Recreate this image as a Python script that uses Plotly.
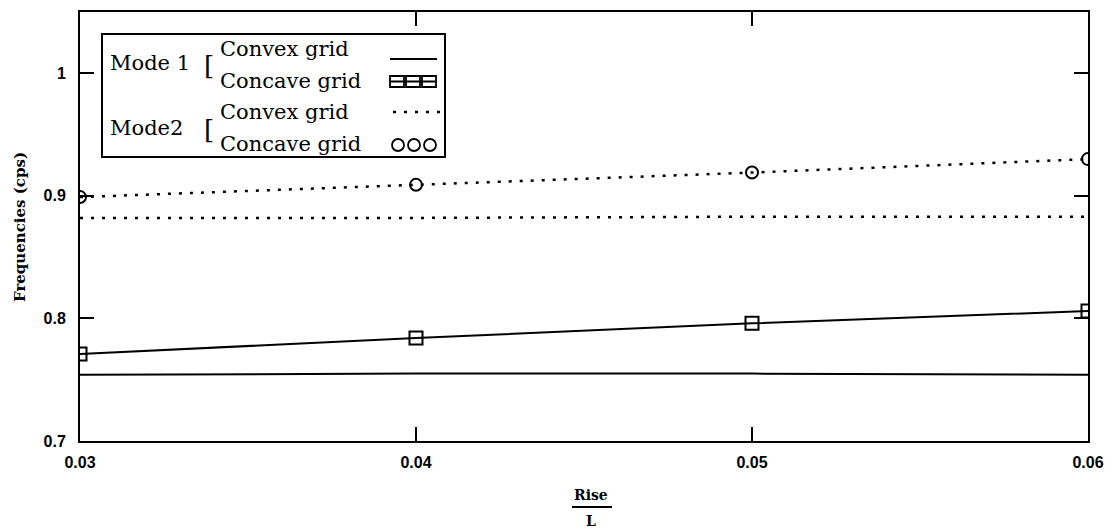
import plotly.graph_objects as go

# ---- data ----
rise_over_L = [0.03, 0.04, 0.05, 0.06]
mode1_convex = [0.754, 0.755, 0.755, 0.754]
mode1_concave = [0.771, 0.784, 0.796, 0.806]
mode2_convex = [0.882, 0.882, 0.883, 0.883]
mode2_concave = [0.899, 0.909, 0.919, 0.930]

x_ticks = [0.03, 0.04, 0.05, 0.06]
x_ticktext = ["0.03", "0.04", "0.05", "0.06"]
y_ticks = [0.7, 0.8, 0.9, 1.0]
y_ticktext = ["0.7", "0.8", "0.9", "1"]

fig = go.Figure()
fig.add_trace(go.Scatter(x=rise_over_L, y=mode1_convex, mode="lines",
                         line=dict(color="black", width=2), showlegend=False))
fig.add_trace(go.Scatter(x=rise_over_L, y=mode1_concave, mode="lines+markers",
                         line=dict(color="black", width=2),
                         marker=dict(symbol="square-open", size=13, color="black",
                                     line=dict(width=2)), showlegend=False))
fig.add_trace(go.Scatter(x=rise_over_L, y=mode2_convex, mode="lines",
                         line=dict(color="black", width=2.5, dash="3px,8px"), showlegend=False))
fig.add_trace(go.Scatter(x=rise_over_L, y=mode2_concave, mode="lines+markers",
                         line=dict(color="black", width=2.5, dash="3px,8px"),
                         marker=dict(symbol="circle-open", size=12, color="black",
                                     line=dict(width=2)), showlegend=False))

tickfont = dict(family="Liberation Sans", size=16, color="black", weight="bold")
fig.update_xaxes(range=[0.03, 0.06], tickvals=x_ticks, ticktext=x_ticktext,
                 showgrid=False, zeroline=False, showline=True, linecolor="black",
                 linewidth=2, mirror="ticks", ticks="inside", ticklen=14, tickwidth=2,
                 tickcolor="black", tickfont=tickfont, ticklabelstandoff=6)
fig.update_yaxes(range=[0.7, 1.05], tickvals=y_ticks, ticktext=y_ticktext,
                 showgrid=False, zeroline=False, showline=True, linecolor="black",
                 linewidth=2, mirror="ticks", ticks="inside", ticklen=14, tickwidth=2,
                 tickcolor="black", tickfont=tickfont, ticklabelstandoff=9)

serif = "DejaVu Serif"
legfont = dict(family=serif, size=21, color="black")

# page coordinates of the plot area's top-left corner
PLOT_LEFT, PLOT_TOP = 80, 10

def ann(text, px, py, size=None, xanchor="left", font=None, angle=0):
    f = dict(font or legfont)
    if size:
        f["size"] = size
    fig.add_annotation(text=text, xref="paper", yref="paper", x=0, y=1,
                       xshift=px - PLOT_LEFT, yshift=-(py - PLOT_TOP), xanchor=xanchor,
                       yanchor="middle", showarrow=False, font=f, textangle=angle)

shapes = []
def box_px(x0, y0, x1, y1, kind="rect", width=2, dash="solid"):
    shapes.append(dict(type=kind, xref="paper", yref="paper", xsizemode="pixel",
                       ysizemode="pixel", xanchor=0, yanchor=1,
                       x0=x0 - PLOT_LEFT, x1=x1 - PLOT_LEFT,
                       y0=-(y0 - PLOT_TOP), y1=-(y1 - PLOT_TOP),
                       line=dict(color="black", width=width, dash=dash),
                       fillcolor="rgba(0,0,0,0)"))

# legend frame
box_px(102, 32, 445, 155, width=2)
# legend texts
ann("Mode 1", 108, 61)
ann("[", 202, 64, size=26)
ann("Convex grid", 218, 47)
ann("Concave grid", 218, 79)
ann("Mode2", 108, 126)
ann("[", 202, 128, size=26)
ann("Convex grid", 218, 110)
ann("Concave grid", 218, 142)
# legend samples
box_px(390, 57, 437, 57, kind="line", width=2)
for cx in (397, 413, 429):
    box_px(cx - 7, 74, cx + 7, 85, width=1.8)
box_px(389, 79.5, 437, 79.5, kind="line", width=1.8)
box_px(393, 110, 440, 110, kind="line", width=2.5, dash="3px,8px")
for cx in (398, 414, 430):
    box_px(cx - 6, 137, cx + 6, 149, kind="circle", width=1.8)

# axis titles
titlefont = dict(family=serif, size=15, color="black", weight="bold")
ann("Frequencies (cps)", 20, 225, xanchor="center", font=titlefont, angle=-90)
ann("Rise", 591, 493, xanchor="center", font=dict(titlefont, size=14))
ann("L", 591, 519, xanchor="center", font=dict(titlefont, size=14))
box_px(572, 505, 612, 505, kind="line", width=2)

# figure is drawn at an 8px offset inside the page (body margin)
fig.update_layout(width=1106, height=521, margin=dict(l=72, r=26, t=2, b=88),
                  plot_bgcolor="white", paper_bgcolor="white", shapes=shapes,
                  showlegend=False)
fig.write_html("out.html")
